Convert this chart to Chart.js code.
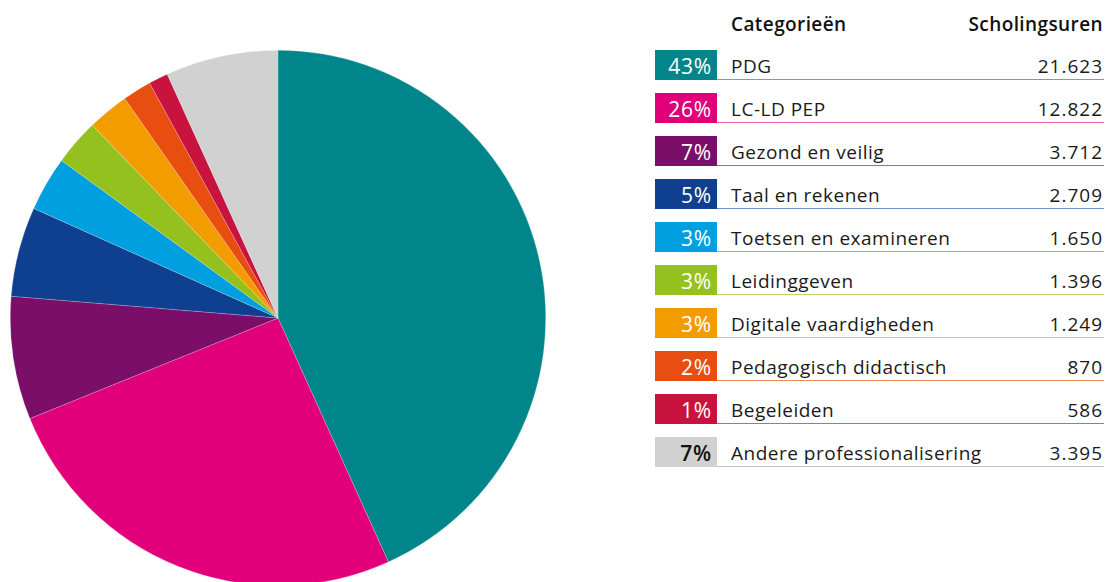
<!DOCTYPE html>
<html>
<head>
<meta charset="utf-8">
<script src="https://cdn.jsdelivr.net/npm/chart.js@4.4.0/dist/chart.umd.min.js"></script>
<style>
  html, body { margin: 0; padding: 0; background: #fff; }
  body { width: 1106px; height: 582px; overflow: hidden; position: relative; font-family: "Open Sans", "Noto Sans", sans-serif; color: #1a1a1a; }
  #pieWrap { position: absolute; left: 10px; top: 50px; width: 536px; height: 536px; }
  #legend { position: absolute; left: 655px; top: 0; width: 449px; }
  .head { position: absolute; top: 11px; font-size: 19px; font-weight: 600; letter-spacing: 0.4px; color: #111; }
  .row { position: absolute; left: 0; width: 449px; height: 30px; }
  .badge { position: absolute; left: 0; top: 0; width: 62px; height: 30px; box-sizing: border-box; padding-right: 5px; text-align: right; font-size: 21px; letter-spacing: 0.8px; line-height: 32px; color: #fff; }
  .name { position: absolute; left: 76px; top: 1px; font-size: 19px; letter-spacing: 0.5px; line-height: 31px; }
  .val { position: absolute; right: 1px; top: 1px; font-size: 19px; letter-spacing: 1px; line-height: 31px; }
  .line { position: absolute; left: 62px; right: 0; top: 29px; height: 1px; }
</style>
</head>
<body>
<div id="pieWrap"><canvas id="pie" width="536" height="536"></canvas></div>
<div id="legend">
  <div class="head" style="left:76px">Categorieën</div>
  <div class="head" style="right:1px">Scholingsuren</div>
</div>
<script>
// data
var categories = ['PDG', 'LC-LD PEP', 'Gezond en veilig', 'Taal en rekenen', 'Toetsen en examineren',
  'Leidinggeven', 'Digitale vaardigheden', 'Pedagogisch didactisch', 'Begeleiden', 'Andere professionalisering'];
var uren = [21623, 12822, 3712, 2709, 1650, 1396, 1249, 870, 586, 3395];
var percentLabels = ['43%', '26%', '7%', '5%', '3%', '3%', '3%', '2%', '1%', '7%'];

var colors = ['#00868A', '#E2007A', '#7B0E68', '#0F3F8F', '#009FE0', '#95C11F', '#F39C00', '#E84E0F', '#C8133F', '#D0D1D0'];
var lineColors = ['#4DB3B6', '#EC5FA8', '#B35FA6', '#6F8FC4', '#55C0EC', '#B6D76A', '#F6BD5A', '#EF8A5E', '#E25A7A', '#C4C5C4'];

function fmt(n) {
  return String(n).replace(/\B(?=(\d{3})+(?!\d))/g, '.');
}

// legend table
var legend = document.getElementById('legend');
for (var i = 0; i < categories.length; i++) {
  var row = document.createElement('div');
  row.className = 'row';
  row.style.top = (50 + i * 43) + 'px';
  var last = i === categories.length - 1;
  var badgeStyle = 'background:' + colors[i] + ';color:' + (last ? '#111;font-weight:600' : '#fff');
  row.innerHTML =
    '<div class="badge" style="' + badgeStyle + '">' + percentLabels[i] + '</div>' +
    '<div class="name">' + categories[i] + '</div>' +
    '<div class="val">' + fmt(uren[i]) + '</div>' +
    '<div class="line" style="background:' + lineColors[i] + '"></div>';
  legend.appendChild(row);
}

// pie
var ctx = document.getElementById('pie');
var pieChart = new Chart(ctx, {
  type: 'pie',
  data: {
    labels: categories,
    datasets: [{
      data: uren,
      backgroundColor: colors,
      borderColor: 'rgba(255,255,255,0.4)',
      borderWidth: 0.5
    }]
  },
  options: {
    responsive: false,
    animation: false,
    layout: { padding: 0 },
    plugins: {
      legend: { display: false },
      tooltip: { enabled: false }
    }
  }
});
</script>
</body>
</html>
